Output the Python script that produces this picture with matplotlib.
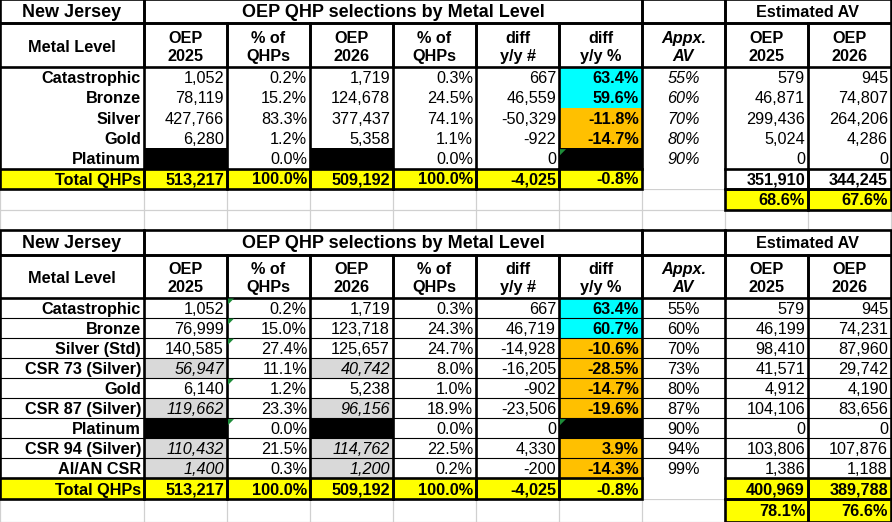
import matplotlib.pyplot as plt
from matplotlib.patches import Rectangle, Polygon

plt.rcParams['font.family'] = ['Liberation Sans', 'DejaVu Sans']

# ----------------------------------------------------------------------------------------------------------------------
# Данные: верхняя таблица (без разбивки CSR)
# ----------------------------------------------------------------------------------------------------------------------
levels_a = ["Catastrophic", "Bronze", "Silver", "Gold", "Platinum"]
oep25_a = [1052, 78119, 427766, 6280, None]
pct25_a = [0.2, 15.2, 83.3, 1.2, 0.0]
oep26_a = [1719, 124678, 377437, 5358, None]
pct26_a = [0.3, 24.5, 74.1, 1.1, 0.0]
diff_a = [667, 46559, -50329, -922, 0]
diffpct_a = [63.4, 59.6, -11.8, -14.7, None]
av_a = [55, 60, 70, 80, 90]
est25_a = [579, 46871, 299436, 5024, 0]
est26_a = [945, 74807, 264206, 4286, 0]
totals_a = [513217, 100.0, 509192, 100.0, -4025, -0.8]
est_tot_a = [351910, 344245]
av_share_a = [68.6, 67.6]

# Данные: нижняя таблица (с разбивкой CSR)
levels_b = ["Catastrophic", "Bronze", "Silver (Std)", "CSR 73 (Silver)", "Gold", "CSR 87 (Silver)",
            "Platinum", "CSR 94 (Silver)", "AI/AN CSR"]
oep25_b = [1052, 76999, 140585, 56947, 6140, 119662, None, 110432, 1400]
pct25_b = [0.2, 15.0, 27.4, 11.1, 1.2, 23.3, 0.0, 21.5, 0.3]
oep26_b = [1719, 123718, 125657, 40742, 5238, 96156, None, 114762, 1200]
pct26_b = [0.3, 24.3, 24.7, 8.0, 1.0, 18.9, 0.0, 22.5, 0.2]
diff_b = [667, 46719, -14928, -16205, -902, -23506, 0, 4330, -200]
diffpct_b = [63.4, 60.7, -10.6, -28.5, -14.7, -19.6, None, 3.9, -14.3]
av_b = [55, 60, 70, 73, 80, 87, 90, 94, 99]
est25_b = [579, 46199, 98410, 41571, 4912, 104106, 0, 103806, 1386]
est26_b = [945, 74231, 87960, 29742, 4190, 83656, 0, 107876, 1188]
totals_b = [513217, 100.0, 509192, 100.0, -4025, -0.8]
est_tot_b = [400969, 389788]
av_share_b = [78.1, 76.6]

header_cols = ["Metal Level", "OEP\n2025", "% of\nQHPs", "OEP\n2026", "% of\nQHPs",
               "diff\ny/y #", "diff\ny/y %", "Appx.\nAV", "OEP\n2025", "OEP\n2026"]

# Геометрия листа (пиксели)
COL_W = [144, 83, 83, 83, 83, 83, 83, 83, 83, 83]
XS = [0]
for w in COL_W:
    XS.append(XS[-1] + w)

CYAN = '#00FFFF'
ORANGE = '#FFC000'
YELLOW = '#FFFF00'
GRAY = '#D9D9D9'
GRID = '#D0D0D0'
THICK = 1.9
THIN = 0.8
FS = 11.7

fig = plt.figure(figsize=(8.92, 5.22), dpi=100)
ax = fig.add_axes([0, 0, 1, 1])
ax.set_xlim(0, 892)
ax.set_ylim(522, 0)
ax.axis('off')


def fmt_int(v):
    return f"{v:,}"


def fmt_pct(v):
    return f"{v:.1f}%"


def fill(c0, c1, y0, y1, color):
    ax.add_patch(Rectangle((XS[c0], y0), XS[c1] - XS[c0], y1 - y0, facecolor=color, edgecolor='none', zorder=1))


def box(c0, c1, y0, y1, lw=THICK):
    ax.add_patch(Rectangle((XS[c0], y0), XS[c1] - XS[c0], y1 - y0, facecolor='none', edgecolor='black',
                           lw=lw, zorder=3))


def put(col, y0, y1, text, ha='right', bold=False, italic=False, size=FS, c1=None):
    if c1 is None:
        c1 = col + 1
    if ha == 'right':
        x = XS[c1] - 3
    elif ha == 'center':
        x = (XS[col] + XS[c1]) / 2
    else:
        x = XS[col] + 3
    ax.text(x, (y0 + y1) / 2 + 1.5, text, ha=ha, va='center', fontsize=size,
            fontweight='bold' if bold else 'normal', fontstyle='italic' if italic else 'normal', zorder=4)


def flag(col, y0):
    # зелёный треугольник Excel в левом верхнем углу ячейки
    x = XS[col] + 1
    ax.add_patch(Polygon([(x, y0 + 1), (x + 6, y0 + 1), (x, y0 + 7)], closed=True, facecolor='#1E8C3A',
                         edgecolor='none', zorder=5))


all_rows = []


def draw_table(y_top, heights, levels, oep25, pct25, oep26, pct26, diff, diffpct, av, est25, est26,
               totals, est_tot, av_share, inner_lines, av_italic, csr_rows, flags, total_av_fill):
    ys = [y_top]
    for h in heights:
        ys.append(ys[-1] + h)
    all_rows.extend(ys)
    n = len(levels)
    body0 = ys[2]
    tot0, tot1 = ys[2 + n], ys[3 + n]
    sh0, sh1 = ys[3 + n], ys[4 + n]

    # заливка
    fill(0, 10, ys[0], tot1, 'white')
    for i in range(n):
        r0, r1 = ys[2 + i], ys[3 + i]
        for c, v in ((1, oep25[i]), (3, oep26[i])):
            if v is None:
                fill(c, c + 1, r0, r1, 'black')
            elif i in csr_rows:
                fill(c, c + 1, r0, r1, GRAY)
        if diffpct[i] is None:
            fill(6, 7, r0, r1, 'black')
        else:
            fill(6, 7, r0, r1, CYAN if diffpct[i] > 10 else ORANGE)
    fill(0, 7, tot0, tot1, YELLOW)
    fill(8, 10, tot0, tot1, total_av_fill)
    fill(8, 10, sh0, sh1, YELLOW)

    # шапка
    put(0, ys[0], ys[1], "New Jersey", ha='center', bold=True, size=13)
    put(1, ys[0], ys[1], "OEP QHP selections by Metal Level", ha='center', bold=True, size=13, c1=7)
    put(8, ys[0], ys[1], "Estimated AV", ha='center', bold=True, c1=10)
    for c, lab in enumerate(header_cols):
        ax.text((XS[c] + XS[c + 1]) / 2, (ys[1] + ys[2]) / 2 + 2.5, lab, ha='center', va='center',
                fontsize=FS, fontweight='bold', fontstyle='italic' if c == 7 else 'normal',
                linespacing=1.25, zorder=4)

    # строки данных
    for i in range(n):
        r0, r1 = ys[2 + i], ys[3 + i]
        it = i in csr_rows
        put(0, r0, r1, levels[i], bold=True)
        if oep25[i] is not None:
            put(1, r0, r1, fmt_int(oep25[i]), italic=it)
        put(2, r0, r1, fmt_pct(pct25[i]))
        if oep26[i] is not None:
            put(3, r0, r1, fmt_int(oep26[i]), italic=it)
        put(4, r0, r1, fmt_pct(pct26[i]))
        put(5, r0, r1, fmt_int(diff[i]))
        if diffpct[i] is not None:
            put(6, r0, r1, fmt_pct(diffpct[i]), bold=True)
        put(7, r0, r1, f"{av[i]}%", ha='center', italic=av_italic)
        put(8, r0, r1, fmt_int(est25[i]))
        put(9, r0, r1, fmt_int(est26[i]))

    # итоги
    put(0, tot0, tot1, "Total QHPs", bold=True)
    for c, v in enumerate(totals):
        txt = fmt_pct(v) if c in (1, 3, 5) else fmt_int(v)
        put(c + 1, tot0, tot1, txt, bold=True)
    put(8, tot0, tot1, fmt_int(est_tot[0]), bold=True)
    put(9, tot0, tot1, fmt_int(est_tot[1]), bold=True)
    put(8, sh0, sh1, fmt_pct(av_share[0]), bold=True)
    put(9, sh0, sh1, fmt_pct(av_share[1]), bold=True)

    # границы
    for c0, c1 in ((0, 1), (1, 7), (7, 8), (8, 10)):
        box(c0, c1, ys[0], ys[1])
    for c in range(10):
        box(c, c + 1, ys[1], ys[2])
    for x in XS:
        ax.plot([x, x], [body0, tot0], color='black', lw=THICK, zorder=3, solid_capstyle='projecting')
    if inner_lines:
        for i in range(1, n):
            ax.plot([XS[0], XS[-1]], [ys[2 + i]] * 2, color='black', lw=THIN, zorder=3)
    for c in list(range(7)) + [8, 9]:
        box(c, c + 1, tot0, tot1)
    box(8, 9, sh0, sh1)
    box(9, 10, sh0, sh1)

    for r, c in flags:
        flag(c, ys[2 + r])


draw_table(-1, [24, 44] + [20.3] * 5 + [20, 21, 21.5],
           levels_a, oep25_a, pct25_a, oep26_a, pct26_a, diff_a, diffpct_a, av_a, est25_a, est26_a,
           totals_a, est_tot_a, av_share_a, inner_lines=False, av_italic=True, csr_rows=[],
           flags=[(4, 6)], total_av_fill='white')

draw_table(230, [24.5, 43] + [20.1] * 9 + [20.5, 23],
           levels_b, oep25_b, pct25_b, oep26_b, pct26_b, diff_b, diffpct_b, av_b, est25_b, est26_b,
           totals_b, est_tot_b, av_share_b, inner_lines=True, av_italic=False, csr_rows=[3, 5, 7, 8],
           flags=[(0, 2), (1, 2), (2, 2), (4, 2), (6, 2), (6, 6)], total_av_fill=YELLOW)

# серая сетка листа
for x in XS:
    ax.plot([x, x], [0, 522], color=GRID, lw=0.9, zorder=0.5)
for y in all_rows:
    ax.plot([0, 892], [y, y], color=GRID, lw=0.9, zorder=0.5)

fig.savefig('out.png', dpi=100, facecolor='white')
